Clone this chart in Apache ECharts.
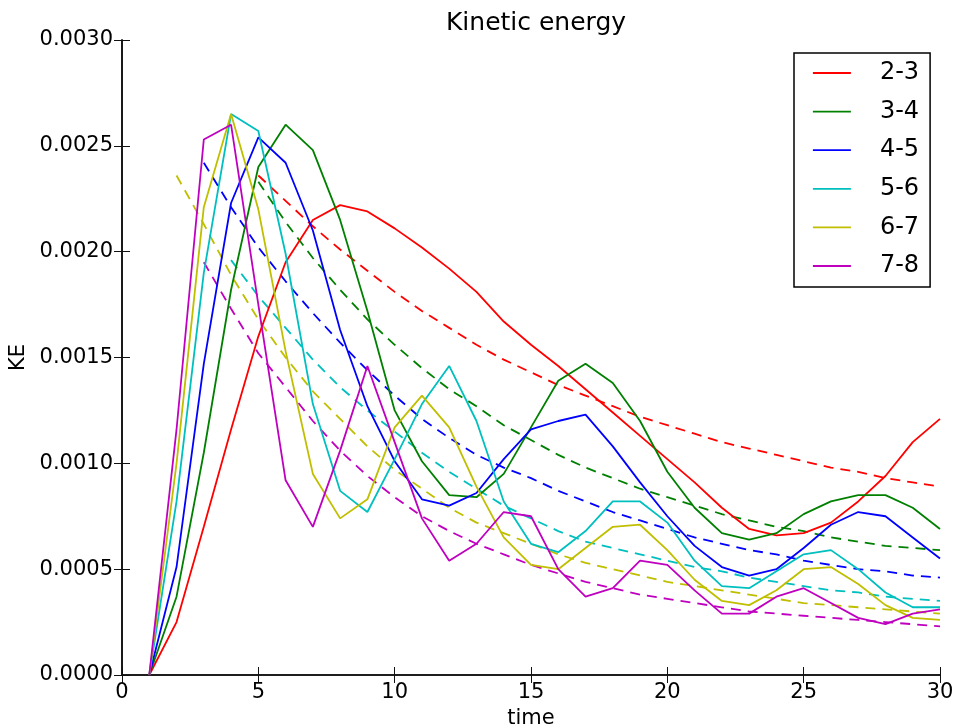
<!DOCTYPE html>
<html>
<head>
<meta charset="utf-8">
<script src="https://cdn.jsdelivr.net/npm/echarts@6/dist/echarts.min.js"></script>
<style>
html,body{margin:0;padding:0;background:#fff;}
#chart{width:955px;height:727px;}
</style>
</head>
<body>
<div id="chart"></div>
<script>
var time = [1,2,3,4,5,6,7,8,9,10,11,12,13,14,15,16,17,18,19,20,21,22,23,24,25,26,27,28,29,30];
var names = ['2-3','3-4','4-5','5-6','6-7','7-8'];
var colors = ['#ff0000','#008000','#0000ff','#00bfbf','#bfbf00','#bf00bf'];

var ke23 = [0,.00025,.0007,.00116,.0016,.00195,.00215,.00222,.00219,.00211,.00202,.00192,.00181,.00167,.00156,.00146,.00135,.00124,.00113,.00102,.00091,.00079,.00069,.00066,.00067,.00072,.00082,.00094,.0011,.00121];
var ke34 = [0,.00037,.00105,.00182,.0024,.0026,.00248,.00215,.00172,.00125,.00101,.00085,.00084,.00095,.00117,.00139,.00147,.00138,.0012,.00096,.00079,.00067,.00064,.00067,.00076,.00082,.00085,.00085,.00079,.00069];
var ke45 = [0,.00051,.00147,.00223,.00254,.00242,.0021,.00163,.00127,.00101,.00083,.0008,.00086,.00102,.00116,.0012,.00123,.00108,.00091,.00075,.00061,.00051,.00047,.0005,.0006,.00071,.00077,.00075,.00065,.00055];
var ke56 = [0,.00082,.0019,.00265,.00257,.00199,.00128,.00087,.00077,.00102,.00128,.00146,.0012,.00082,.00062,.00058,.00068,.00082,.00082,.00072,.00054,.00042,.00041,.00049,.00057,.00059,.0005,.00039,.00032,.00032];
var ke67 = [0,.001,.00221,.00265,.0022,.00153,.00095,.00074,.00083,.00117,.00132,.00117,.00089,.00065,.00052,.0005,.0006,.0007,.00071,.00059,.00045,.00035,.00033,.0004,.0005,.00051,.00043,.00033,.00027,.00026];
var ke78 = [0,.00116,.00253,.0026,.00175,.00092,.0007,.00106,.00146,.0011,.00074,.00054,.00062,.00077,.00075,.0005,.00037,.00041,.00054,.00052,.0004,.00029,.00029,.00037,.00041,.00034,.00027,.00024,.00029,.00031];

var fit23 = [null,null,null,null,.00236,.00224,.00212,.00201,.00191,.00181,.00172,.00164,.00156,.00149,.00143,.00137,.00132,.00127,.00122,.00118,.00114,.0011,.00107,.00104,.00101,.00098,.00096,.00093,.00091,.00089];
var fit34 = [null,null,null,null,.00233,.00214,.00197,.00182,.00168,.00156,.00145,.00135,.00127,.00118,.00111,.00104,.00098,.00093,.00088,.00084,.0008,.00076,.00073,.0007,.00068,.00065,.00063,.00061,.0006,.00059];
var fit45 = [null,null,.00242,.00221,.00202,.00186,.00171,.00157,.00144,.00132,.00121,.00112,.00104,.00098,.00093,.00087,.00082,.00077,.00073,.00069,.00065,.00062,.00059,.00057,.00054,.00052,.0005,.00049,.00047,.00046];
var fit56 = [null,null,null,.00196,.00179,.00164,.00149,.00136,.00125,.00115,.00105,.00096,.00088,.0008,.00074,.00068,.00063,.0006,.00057,.00054,.00051,.00049,.00046,.00044,.00042,.0004,.00039,.00037,.00036,.00035];
var fit67 = [null,.00236,.00213,.00189,.00168,.0015,.00134,.00121,.00108,.00097,.00088,.00079,.00072,.00067,.00062,.00057,.00053,.0005,.00047,.00044,.00042,.0004,.00038,.00036,.00034,.00033,.00032,.00031,.0003,.00029];
var fit78 = [null,null,.00195,.00173,.00152,.00136,.0012,.00106,.00094,.00084,.00075,.00068,.00062,.00057,.00052,.00048,.00044,.00041,.00038,.00036,.00034,.00032,.0003,.00029,.00028,.00027,.00026,.00025,.00024,.00023];

var xTicks = [0,5,10,15,20,25,30];
var yTicks = [0,0.0005,0.001,0.0015,0.002,0.0025,0.003];

var solid = [ke23, ke34, ke45, ke56, ke67, ke78];
var fits = [fit23, fit34, fit45, fit56, fit67, fit78];

function pairs(arr){
  var out = [];
  for (var i = 0; i < time.length; i++) {
    if (arr[i] !== null) out.push([time[i], arr[i]]);
  }
  return out;
}

var FONT = 'DejaVu Sans';
var LW = 1.8;
var series = [];
for (var k = 0; k < names.length; k++) {
  series.push({
    name: names[k], type: 'line', data: pairs(solid[k]),
    symbol: 'none', color: colors[k],
    lineStyle: {color: colors[k], width: LW},
    animation: false, z: 3
  });
}
for (var k2 = 0; k2 < names.length; k2++) {
  series.push({
    name: names[k2] + ' fit', type: 'line', data: pairs(fits[k2]),
    symbol: 'none', color: colors[k2],
    lineStyle: {color: colors[k2], width: LW, type: [10, 7]},
    animation: false, z: 2
  });
}

var axisLine = {show: true, lineStyle: {color: '#111', width: 1.6}};
var tick = {show: true, inside: true, length: 8, lineStyle: {color: '#111', width: 1}};

var option = {
  backgroundColor: '#fff',
  animation: false,
  title: {
    text: 'Kinetic energy', left: 531, top: 6, textAlign: 'center',
    textStyle: {fontFamily: FONT, fontSize: 25, fontWeight: 'normal', color: '#000'}
  },
  legend: {
    data: names, orient: 'vertical', left: 794, top: 53,
    padding: [8, 11, 9, 18], itemGap: 14.6, itemWidth: 38, itemHeight: 20,
    borderColor: '#000', borderWidth: 1.5, backgroundColor: '#fff', borderRadius: 0,
    textStyle: {fontFamily: FONT, fontSize: 24, color: '#000', padding: [0, 0, 0, 24], lineHeight: 24},
    itemStyle: {opacity: 0},
    lineStyle: {width: LW}
  },
  grid: {left: 122, right: 15, top: 40, bottom: 52, containLabel: false, outerBoundsMode: 'none'},
  xAxis: [{
    type: 'value', min: 0, max: 30, interval: 5,
    name: 'time', nameLocation: 'middle', nameGap: 27,
    nameTextStyle: {fontFamily: FONT, fontSize: 21, color: '#000'},
    axisLine: axisLine, axisTick: tick, splitLine: {show: false},
    axisLabel: {fontFamily: FONT, fontSize: 21, color: '#000', margin: 7,
      customValues: xTicks, formatter: function(v){return String(v);}}
  }, {
    type: 'value', min: 0, max: 30, interval: 5, position: 'top',
    axisLine: axisLine, axisTick: tick, axisLabel: {show: false}, splitLine: {show: false}
  }],
  yAxis: [{
    type: 'value', min: 0, max: 0.003, interval: 0.0005,
    name: 'KE', nameLocation: 'middle', nameGap: 88,
    nameTextStyle: {fontFamily: FONT, fontSize: 21, color: '#000'},
    axisLine: axisLine, axisTick: tick, splitLine: {show: false},
    axisLabel: {fontFamily: FONT, fontSize: 21, color: '#000', margin: 9,
      formatter: function(v){return v.toFixed(4);}}
  }, {
    type: 'value', min: 0, max: 0.003, interval: 0.0005, position: 'right',
    axisLine: axisLine, axisTick: tick, axisLabel: {show: false}, splitLine: {show: false}
  }],
  series: series
};

var chart = echarts.init(document.getElementById('chart'), null, {renderer: 'canvas'});
chart.setOption(option);
</script>
</body>
</html>
